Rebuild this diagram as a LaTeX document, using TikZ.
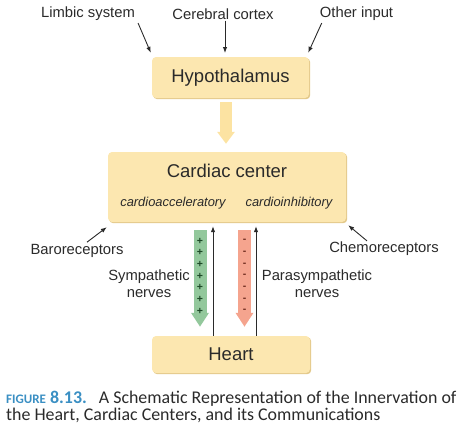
\documentclass[tikz,border=0pt]{standalone}
\usepackage{fontspec}
\setmainfont{Liberation Sans}
\newfontfamily\captionfont{Carlito}
\usepackage{tikz}
\usetikzlibrary{positioning,shapes,shadows,arrows.meta}
\definecolor{boxYellow}{HTML}{FCE7B0}
\definecolor{boxShadow}{HTML}{E3C98B}
\definecolor{arrowYellow}{HTML}{FCE3A2}
\definecolor{nerveGreen}{HTML}{93C89C}
\definecolor{nerveRed}{HTML}{F5A48E}
\definecolor{plusGreen}{HTML}{1E4A28}
\definecolor{minusRed}{HTML}{6E2B1E}
\definecolor{inkGray}{HTML}{2A2A2A}
\definecolor{figBlue}{HTML}{3A8FC3}
\tikzstyle{organ}=[rectangle, rounded corners=4pt, fill=boxYellow, text=inkGray, inner sep=0pt, font=\fontsize{18.5}{22}\selectfont, drop shadow={shadow xshift=1.2pt, shadow yshift=-1.2pt, opacity=1, fill=boxShadow}]
\tikzstyle{source}=[text=inkGray, inner sep=1pt, align=center, font=\fontsize{14.8}{17}\selectfont]
\tikzstyle{subcenter}=[text=inkGray, inner sep=0pt, font=\itshape\fontsize{12.9}{15}\selectfont]
\tikzstyle{nerve}=[line width=13pt, -{Triangle[length=14pt, width=17pt]}]
\tikzstyle{relay}=[line width=12pt, arrowYellow, -{Triangle[length=12pt, width=17pt]}]
\tikzstyle{signal}=[line width=0.9pt, inkGray, ->]
\tikzstyle{sign}=[inner sep=0pt, font=\fontsize{10.5}{10}\selectfont\bfseries]
\tikzstyle{captext}=[anchor=base west, inner sep=0pt, text=inkGray, font=\captionfont\fontsize{17.9}{20}\selectfont]
\tikzset{>={Latex[length=6pt, width=4.5pt]}}

\begin{document}
\begin{tikzpicture}[x=1pt, y=-1pt]
    \useasboundingbox (0,0) rectangle (474,437);

        \node (hypo)[organ, minimum width=157pt, minimum height=41pt] at (230.5,77.5) {Hypothalamus};
        \node (cardiac)[organ, minimum width=238pt, minimum height=70pt] at (227,187) {};
        \node (heart)[organ, minimum width=158pt, minimum height=37pt] at (231,354.5) {Heart};

        \node (cardiacTitle)[text=inkGray, font=\fontsize{18.5}{22}\selectfont] at (227,171) {Cardiac center};
        \node (accel)[subcenter] at (173,203) {cardioacceleratory};
        \node (inhib)[subcenter] at (289,203) {cardioinhibitory};

        % inputs to the hypothalamus
        \node (limbic)[source] at (88,14) {Limbic system};
        \node (cortex)[source] at (223,14) {Cerebral cortex};
        \node (other)[source] at (356.5,14) {Other input};
        \coordinate (cortexTip) at (225,57);

        \draw [signal] ([xshift=2pt,yshift=-1pt]limbic.south east) -- ([xshift=-1pt,yshift=4pt]hypo.north west);
        \draw [signal] (cortexTip |- cortex.south) -- ([yshift=4pt]cortexTip);
        \draw [signal] ([xshift=3pt,yshift=-1pt]other.south west) -- ([xshift=-1pt,yshift=4pt]hypo.north east);

        \coordinate (relayTop) at (226,102);
        \coordinate (relayTip) at (relayTop |- cardiac.north);
        \draw [relay] (relayTop) -- ([yshift=8pt]relayTip);

        % receptors
        \node (baro)[source] at (77,251) {Baroreceptors};
        \node (chemo)[source] at (384,249) {Chemoreceptors};
        \draw [signal] ([xshift=10pt,yshift=1pt]baro.north) -- ([xshift=-1pt,yshift=-5pt]cardiac.south west);
        \draw [signal] ([xshift=-17pt]chemo.north) -- ([xshift=2pt,yshift=-3pt]cardiac.south east);

        % nerves between cardiac center and heart
        \foreach \dx/\name in {-27/sympDown, -14/sympUp, 17.5/paraDown, 29/paraUp}{
            \coordinate (\name Top) at ([xshift=\dx pt]cardiac.south);
            \coordinate (\name Bottom) at (\name Top |- heart.north);
        };
        \draw [nerve, nerveGreen] ([yshift=-8pt]sympDownTop) -- ([yshift=9pt]sympDownBottom);
        \draw [nerve, nerveRed] ([yshift=-8pt]paraDownTop) -- ([yshift=9pt]paraDownBottom);
        \draw [signal] (sympUpBottom) -- ([yshift=-4pt]sympUpTop);
        \draw [signal] (paraUpBottom) -- ([yshift=-4pt]paraUpTop);

        \foreach \k in {0,...,6}{
            \node (plus\k)[sign, text=plusGreen] at (200,241+11.67*\k) {+};
            \node (minus\k)[sign, text=minusRed] at (244.5,241+11.67*\k) {-};
        };

        \node (sympLabel)[source] at (149,283.5) {Sympathetic\\nerves};
        \node (paraLabel)[source] at (317,283.5) {Parasympathetic\\nerves};

        \node (figCaption)[captext] at (6,403.3) {{\color{figBlue}\bfseries{\fontsize{13}{15}\selectfont FIGURE} 8.13.}\hspace{12pt}A Schematic Representation of the Innervation of};
        \node (figCaptionCont)[captext] at (6,420.3) {the Heart, Cardiac Centers, and its Communications};

    \end{tikzpicture}
\end{document}
